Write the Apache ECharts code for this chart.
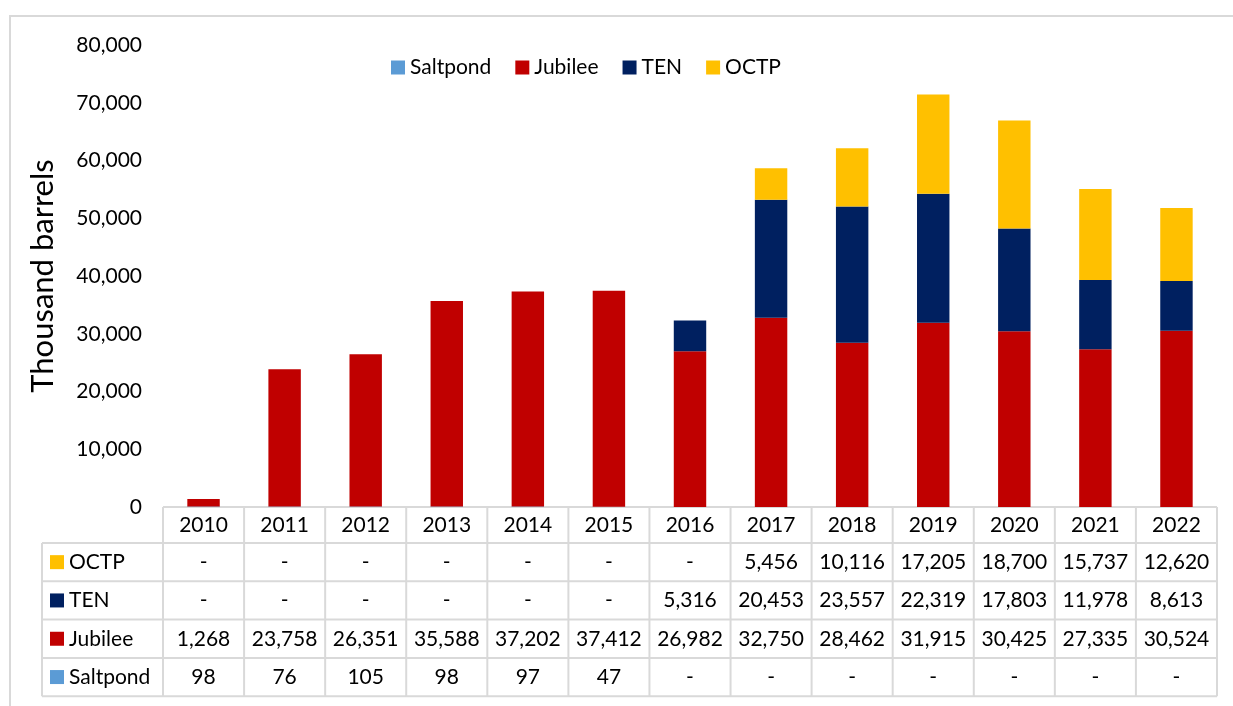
<!DOCTYPE html>
<html>
<head>
<meta charset="utf-8">
<script src="https://cdn.jsdelivr.net/npm/echarts@6/dist/echarts.min.js"></script>
<style>
  html, body { margin: 0; padding: 0; background: #fff; }
  #main { width: 1233px; height: 706px; }
</style>
</head>
<body>
<div id="main"></div>
<script>
// data, thousand barrels
const years = ['2010', '2011', '2012', '2013', '2014', '2015', '2016', '2017', '2018', '2019', '2020', '2021', '2022']
const saltpond = [98, 76, 105, 98, 97, 47, null, null, null, null, null, null, null]
const jubilee = [1268, 23758, 26351, 35588, 37202, 37412, 26982, 32750, 28462, 31915, 30425, 27335, 30524]
const ten = [null, null, null, null, null, null, 5316, 20453, 23557, 22319, 17803, 11978, 8613]
const octp = [null, null, null, null, null, null, null, 5456, 10116, 17205, 18700, 15737, 12620]
const yTicks = [0, 10000, 20000, 30000, 40000, 50000, 60000, 70000, 80000]

const FONT = 'Lato'
const FS = 21
const GRID = { left: 163, right: 16, top: 45, bottom: 199 }
const W = 1233, H = 706
const lineColor = '#d9d9d9'

const seriesDefs = [
  { name: 'Saltpond', data: saltpond, color: '#5b9bd5' },
  { name: 'Jubilee', data: jubilee, color: '#c00000' },
  { name: 'TEN', data: ten, color: '#002060' },
  { name: 'OCTP', data: octp, color: '#ffc000' }
]

const fmt = v => (v == null ? '-' : v.toLocaleString('en-US'))

let myChart = echarts.init(document.getElementById('main'))

// data table under the axis
const axisY = H - GRID.bottom
const colW = (W - GRID.left - GRID.right) / years.length
const headH = 36
const rowH = 38.3
const tableLeft = 42
const tableRight = W - GRID.right
const rows = seriesDefs.slice().reverse()
const tableBottom = axisY + headH + rows.length * rowH

const graphics = []
// outer frame of the chart
graphics.push({
  type: 'rect', shape: { x: 10, y: 16, width: W + 20, height: H + 20 },
  style: { fill: 'none', stroke: lineColor, lineWidth: 2 }, silent: true
})
// horizontal lines
graphics.push({ type: 'line', shape: { x1: GRID.left, y1: axisY, x2: tableRight, y2: axisY }, style: { stroke: lineColor, lineWidth: 2 } })
for (let r = 0; r <= rows.length; r++) {
  const y = axisY + headH + r * rowH
  graphics.push({ type: 'line', shape: { x1: tableLeft, y1: y, x2: tableRight, y2: y }, style: { stroke: lineColor, lineWidth: 2 } })
}
// vertical lines
graphics.push({ type: 'line', shape: { x1: tableLeft, y1: axisY + headH, x2: tableLeft, y2: tableBottom }, style: { stroke: lineColor, lineWidth: 2 } })
for (let c = 0; c <= years.length; c++) {
  const x = GRID.left + c * colW
  graphics.push({ type: 'line', shape: { x1: x, y1: axisY, x2: x, y2: tableBottom }, style: { stroke: lineColor, lineWidth: 2 } })
}
// row labels and values
rows.forEach((s, r) => {
  const cy = axisY + headH + r * rowH + rowH / 2
  graphics.push({ type: 'rect', shape: { x: 50, y: cy - 7, width: 14, height: 14 }, style: { fill: s.color } })
  graphics.push({
    type: 'text', x: 69, y: cy,
    style: { text: s.name, fontFamily: FONT, fontSize: FS, fill: '#000', verticalAlign: 'middle', align: 'left' }
  })
  s.data.forEach((v, c) => {
    graphics.push({
      type: 'text', x: GRID.left + (c + 0.5) * colW, y: cy,
      style: { text: fmt(v), fontFamily: FONT, fontSize: FS, fill: '#000', verticalAlign: 'middle', align: 'center' }
    })
  })
})

const option = {
  backgroundColor: '#fff',
  animation: false,
  textStyle: { fontFamily: FONT },
  legend: {
    left: 386,
    top: 52,
    itemWidth: 14,
    itemHeight: 14,
    itemGap: 24,
    icon: 'rect',
    textStyle: { fontFamily: FONT, fontSize: FS, color: '#000' },
    data: seriesDefs.map(s => s.name)
  },
  grid: GRID,
  xAxis: {
    type: 'category',
    data: years,
    axisLine: { show: false },
    axisTick: { show: false },
    axisLabel: { fontFamily: FONT, fontSize: FS, color: '#000', margin: 8 }
  },
  yAxis: {
    type: 'value',
    min: yTicks[0],
    max: yTicks[yTicks.length - 1],
    interval: yTicks[1] - yTicks[0],
    name: 'Thousand barrels',
    nameLocation: 'middle',
    nameGap: 105,
    nameTextStyle: { fontFamily: FONT, fontSize: 31, color: '#000' },
    axisLine: { show: false },
    axisTick: { show: false },
    splitLine: { show: false },
    axisLabel: {
      fontFamily: FONT, fontSize: FS, color: '#000', margin: 21,
      formatter: v => v.toLocaleString('en-US')
    }
  },
  series: seriesDefs.map(s => ({
    name: s.name,
    type: 'bar',
    stack: 'total',
    barWidth: '40%',
    itemStyle: { color: s.color },
    data: s.data
  })),
  graphic: graphics
}
myChart.setOption(option)
window.addEventListener('resize', () => myChart.resize())
</script>
</body>
</html>
